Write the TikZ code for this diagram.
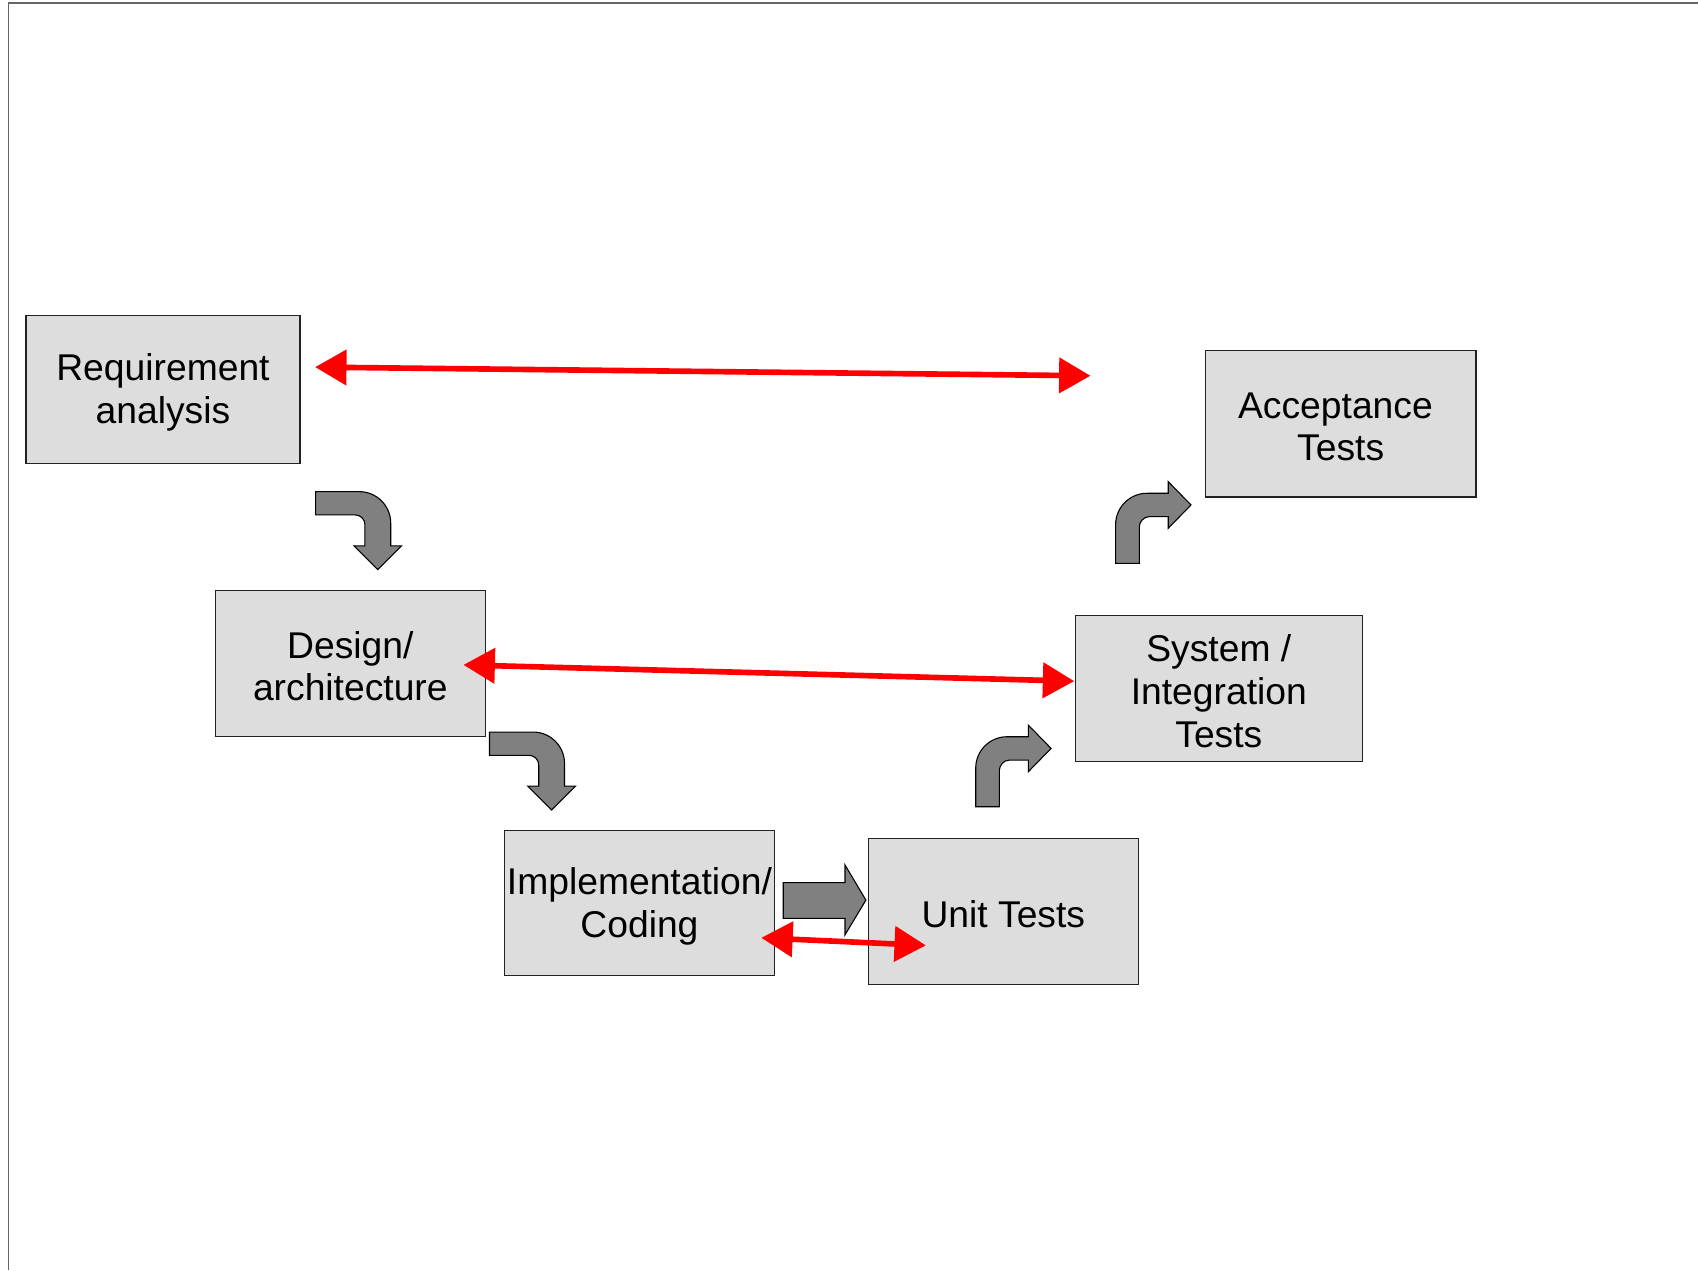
\documentclass[tikz,border=0pt]{standalone}
\usepackage{fontspec}
\setmainfont{Liberation Sans}
\usetikzlibrary{arrows.meta}

\definecolor{boxfill}{HTML}{DDDDDD}
\definecolor{boxline}{HTML}{222222}
\definecolor{bentfill}{HTML}{808080}
\definecolor{framegray}{HTML}{666666}
\definecolor{linkred}{HTML}{FF0000}

\tikzset{
  stagebox/.style={draw=boxline, fill=boxfill, line width=0.55pt, inner sep=0pt,
    align=center, font=\fontsize{17.2}{20}\selectfont},
  stagetext/.style={inner sep=0pt, align=center, yshift=-1.4pt,
    font=\fontsize{17.2}{19.7}\selectfont},
  blockarrow/.style={draw=black, fill=bentfill, line width=0.5pt, line join=miter},
  link/.style={draw=linkred, line width=2.6pt,
    {Triangle[length=14.5pt,width=16pt]}-{Triangle[length=14.5pt,width=16pt]}},
  % bent arrow turning from rightwards to downwards
  turndown/.pic={
    \path[blockarrow] (0,0) -- (40.3,0)
      .. controls (56.3,0) and (69.3,13) .. (69.3,29)
      -- (69.3,50) -- (79.4,50) -- (57.4,72) -- (35.4,50) -- (45.5,50)
      -- (45.5,30.5) .. controls (45.5,25.53) and (41.47,21.5) .. (36.5,21.5)
      -- (0,21.5) -- cycle;
  },
  % bent arrow turning from upwards to rightwards
  turnup/.pic={
    \path[blockarrow] (0,0) -- (0,-35.7)
      .. controls (0,-51.7) and (13,-64.7) .. (29,-64.7)
      -- (48.6,-64.7) -- (48.6,-75.4) -- (69.6,-53.9) -- (48.6,-32.4) -- (48.6,-43.1)
      -- (30.9,-43.1) .. controls (25.93,-43.1) and (21.9,-38.13) .. (21.9,-34.1)
      -- (21.9,0) -- cycle;
  },
}

\begin{document}
\begin{tikzpicture}[x=0.5pt,y=-0.5pt]
  \useasboundingbox (0,0) rectangle (1568,1173);

  % page frame
  \draw[framegray, line width=0.7pt] (1568,3) -- (8,3) -- (8,1173);

  % stages of the V model
  \node[stagebox, minimum width=126.5pt, minimum height=68.5pt] (req)  at (150.5,359.5)  {};
  \node[stagebox, minimum width=125pt,   minimum height=67.5pt] (acc)  at (1238,391.5)   {};
  \node[stagebox, minimum width=124.5pt, minimum height=67.5pt] (des)  at (323.5,612.5)  {};
  \node[stagebox, minimum width=132.5pt, minimum height=67.5pt] (sys)  at (1125.5,635.5) {};
  \node[stagebox, minimum width=124.5pt, minimum height=67pt]   (imp)  at (590.5,834)    {};
  \node[stagebox, minimum width=124.5pt, minimum height=67.5pt] (unit) at (926.5,841.5)  {};

  % stage labels
  \node[stagetext] (reqlabel)  at (req.center)  {Requirement\\analysis};
  \node[stagetext] (acclabel)  at (acc.center)  {Acceptance\hspace*{4.8pt}\\Tests};
  \node[stagetext] (deslabel)  at (des.center)  {Design/\\architecture};
  \node[stagetext] (syslabel)  at (sys.center)  {System /\\Integration\\Tests};
  \node[stagetext] (implabel)  at (imp.center)  {Implementation/\\Coding};
  \node[stagetext] (unitlabel) at (unit.center) {Unit Tests};

  % flow between stages
  \pic at (291.5,454) {turndown};
  \pic at (452,676)   {turndown};
  \pic at (901,745)   {turnup};
  \pic at (1030.2,520.2) {turnup};
  \path[blockarrow] (723.3,815) -- (780.3,815) -- (780.3,798.7) -- (799.6,831.2)
    -- (780.3,863.3) -- (780.3,848) -- (723.3,848) -- cycle;

  % verification links
  \coordinate (l1a) at (291,339);
  \coordinate (l1b) at (1007,347);
  \coordinate (l2a) at (428,614);
  \coordinate (l2b) at (992,629);
  \coordinate (l3a) at (703,866);
  \coordinate (l3b) at (855,873);
  \draw[link] (l1a) -- (l1b);
  \draw[link] (l2a) -- (l2b);
  \draw[link] (l3a) -- (l3b);
\end{tikzpicture}
\end{document}
